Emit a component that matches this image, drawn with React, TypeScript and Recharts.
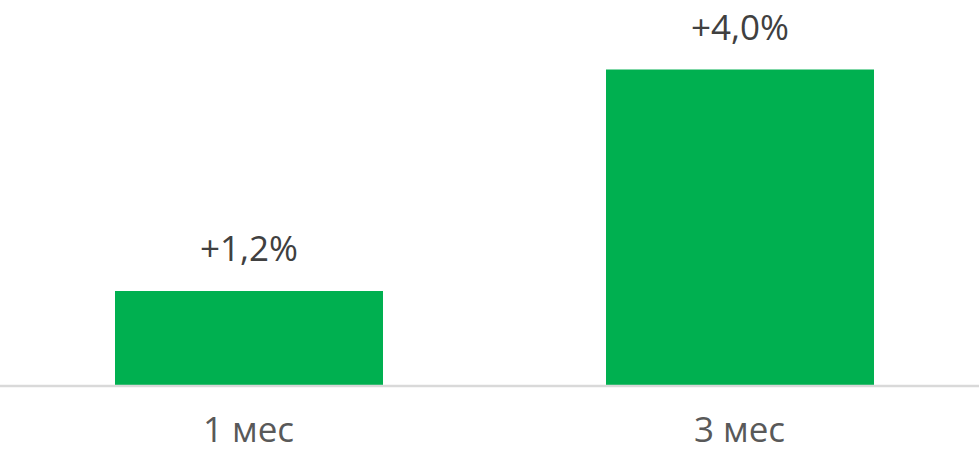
import React from 'react';
import { BarChart, Bar, XAxis, YAxis, LabelList } from 'recharts';

// periods and growth values (%)
const periods = ['1 мес', '3 мес'];
const growth = [1.2, 4.0];

const data = periods.map((period, i) => ({ period, growth: growth[i] }));

const formatGrowth = (v: any) => `+${Number(v).toFixed(1).replace('.', ',')}%`;

const font = '"Open Sans", sans-serif';

const App: React.FC = () => {
  return (
    <div style={{ position: 'absolute', left: 0, top: 0, width: 979, height: 452, overflow: 'hidden', background: '#fff' }}>
      <BarChart width={985} height={452} data={data} margin={{ top: 30, right: 0, bottom: 0, left: 0 }}>
        <XAxis
          dataKey="period"
          height={66}
          padding={{ left: 3, right: 0 }}
          axisLine={{ stroke: '#d9d9d9', strokeWidth: 2.5 }}
          tickLine={false}
          tickSize={0}
          tickMargin={31}
          tick={{ fill: '#595959', fontSize: 35, fontFamily: font }}
        />
        <YAxis hide domain={[0, 4.5]} />
        <Bar dataKey="growth" fill="#00b050" barSize={268} isAnimationActive={false}>
          <LabelList
            dataKey="growth"
            position="top"
            offset={30}
            formatter={formatGrowth}
            fill="#404040"
            fontSize={35}
            fontFamily={font}
          />
        </Bar>
      </BarChart>
    </div>
  );
};

export default App;
